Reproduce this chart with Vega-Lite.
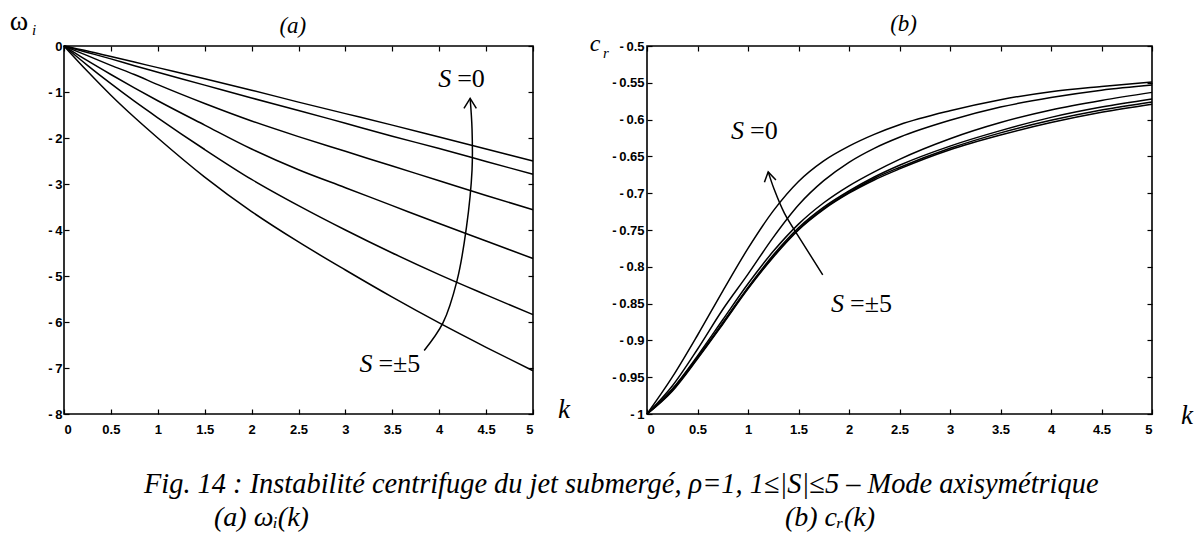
{
  "$schema": "https://vega.github.io/schema/vega-lite/v6.json",
  "background": "white",
  "padding": {"left": 8, "top": 7, "right": 0, "bottom": 0},
  "bounds": "flush",
  "spacing": 114,
  "config": {
    "view": {"stroke": "black", "strokeWidth": 1.6},
    "axis": {
      "domain": false,
      "grid": false,
      "ticks": true,
      "tickSize": -5,
      "tickColor": "black",
      "tickWidth": 1.2,
      "labelFont": "Liberation Sans",
      "labelFontWeight": "bold",
      "labelFontSize": 13,
      "labelColor": "black"
    },
    "text": {"color": "black"}
  },
  "datasets": {
    "omega": [
      {"S": 0, "k": 0, "w": 0}, {"S": 0, "k": 0.25, "w": -0.11}, {"S": 0, "k": 0.5, "w": -0.23}, {"S": 0, "k": 0.75, "w": -0.35}, {"S": 0, "k": 1, "w": -0.47}, {"S": 0, "k": 1.5, "w": -0.71}, {"S": 0, "k": 2, "w": -0.96}, {"S": 0, "k": 2.5, "w": -1.22}, {"S": 0, "k": 3, "w": -1.47}, {"S": 0, "k": 3.5, "w": -1.72}, {"S": 0, "k": 4, "w": -1.98}, {"S": 0, "k": 4.5, "w": -2.24}, {"S": 0, "k": 5, "w": -2.5},
      {"S": 1, "k": 0, "w": 0}, {"S": 1, "k": 0.25, "w": -0.14}, {"S": 1, "k": 0.5, "w": -0.28}, {"S": 1, "k": 0.75, "w": -0.43}, {"S": 1, "k": 1, "w": -0.57}, {"S": 1, "k": 1.5, "w": -0.85}, {"S": 1, "k": 2, "w": -1.13}, {"S": 1, "k": 2.5, "w": -1.4}, {"S": 1, "k": 3, "w": -1.68}, {"S": 1, "k": 3.5, "w": -1.96}, {"S": 1, "k": 4, "w": -2.23}, {"S": 1, "k": 4.5, "w": -2.51}, {"S": 1, "k": 5, "w": -2.79},
      {"S": 2, "k": 0, "w": 0}, {"S": 2, "k": 0.25, "w": -0.21}, {"S": 2, "k": 0.5, "w": -0.42}, {"S": 2, "k": 0.75, "w": -0.62}, {"S": 2, "k": 1, "w": -0.84}, {"S": 2, "k": 1.5, "w": -1.25}, {"S": 2, "k": 2, "w": -1.63}, {"S": 2, "k": 2.5, "w": -1.97}, {"S": 2, "k": 3, "w": -2.29}, {"S": 2, "k": 3.5, "w": -2.61}, {"S": 2, "k": 4, "w": -2.93}, {"S": 2, "k": 4.5, "w": -3.25}, {"S": 2, "k": 5, "w": -3.56},
      {"S": 3, "k": 0, "w": 0}, {"S": 3, "k": 0.25, "w": -0.32}, {"S": 3, "k": 0.5, "w": -0.62}, {"S": 3, "k": 0.75, "w": -0.91}, {"S": 3, "k": 1, "w": -1.19}, {"S": 3, "k": 1.5, "w": -1.72}, {"S": 3, "k": 2, "w": -2.24}, {"S": 3, "k": 2.5, "w": -2.69}, {"S": 3, "k": 3, "w": -3.08}, {"S": 3, "k": 3.5, "w": -3.47}, {"S": 3, "k": 4, "w": -3.86}, {"S": 3, "k": 4.5, "w": -4.24}, {"S": 3, "k": 5, "w": -4.62},
      {"S": 4, "k": 0, "w": 0}, {"S": 4, "k": 0.25, "w": -0.42}, {"S": 4, "k": 0.5, "w": -0.82}, {"S": 4, "k": 0.75, "w": -1.2}, {"S": 4, "k": 1, "w": -1.56}, {"S": 4, "k": 1.5, "w": -2.25}, {"S": 4, "k": 2, "w": -2.9}, {"S": 4, "k": 2.5, "w": -3.47}, {"S": 4, "k": 3, "w": -4.0}, {"S": 4, "k": 3.5, "w": -4.5}, {"S": 4, "k": 4, "w": -4.97}, {"S": 4, "k": 4.5, "w": -5.41}, {"S": 4, "k": 5, "w": -5.84},
      {"S": 5, "k": 0, "w": 0}, {"S": 5, "k": 0.25, "w": -0.55}, {"S": 5, "k": 0.5, "w": -1.07}, {"S": 5, "k": 0.75, "w": -1.55}, {"S": 5, "k": 1, "w": -2.0}, {"S": 5, "k": 1.5, "w": -2.85}, {"S": 5, "k": 2, "w": -3.6}, {"S": 5, "k": 2.5, "w": -4.26}, {"S": 5, "k": 3, "w": -4.87}, {"S": 5, "k": 3.5, "w": -5.46}, {"S": 5, "k": 4, "w": -6.02}, {"S": 5, "k": 4.5, "w": -6.55}, {"S": 5, "k": 5, "w": -7.06}
    ],
    "cr": [
      {"S": 0, "k": 0, "c": -1}, {"S": 0, "k": 0.25, "c": -0.95}, {"S": 0, "k": 0.5, "c": -0.893}, {"S": 0, "k": 0.75, "c": -0.833}, {"S": 0, "k": 1, "c": -0.775}, {"S": 0, "k": 1.25, "c": -0.724}, {"S": 0, "k": 1.5, "c": -0.684}, {"S": 0, "k": 1.75, "c": -0.656}, {"S": 0, "k": 2, "c": -0.636}, {"S": 0, "k": 2.25, "c": -0.62}, {"S": 0, "k": 2.5, "c": -0.607}, {"S": 0, "k": 3, "c": -0.588}, {"S": 0, "k": 3.5, "c": -0.573}, {"S": 0, "k": 4, "c": -0.562}, {"S": 0, "k": 4.5, "c": -0.555}, {"S": 0, "k": 5, "c": -0.549},
      {"S": 1, "k": 0, "c": -1}, {"S": 1, "k": 0.25, "c": -0.962}, {"S": 1, "k": 0.5, "c": -0.912}, {"S": 1, "k": 0.75, "c": -0.858}, {"S": 1, "k": 1, "c": -0.81}, {"S": 1, "k": 1.25, "c": -0.76}, {"S": 1, "k": 1.5, "c": -0.716}, {"S": 1, "k": 1.75, "c": -0.683}, {"S": 1, "k": 2, "c": -0.658}, {"S": 1, "k": 2.25, "c": -0.639}, {"S": 1, "k": 2.5, "c": -0.624}, {"S": 1, "k": 3, "c": -0.601}, {"S": 1, "k": 3.5, "c": -0.583}, {"S": 1, "k": 4, "c": -0.57}, {"S": 1, "k": 4.5, "c": -0.56}, {"S": 1, "k": 5, "c": -0.553},
      {"S": 2, "k": 0, "c": -1}, {"S": 2, "k": 0.25, "c": -0.966}, {"S": 2, "k": 0.5, "c": -0.921}, {"S": 2, "k": 0.75, "c": -0.872}, {"S": 2, "k": 1, "c": -0.823}, {"S": 2, "k": 1.25, "c": -0.779}, {"S": 2, "k": 1.5, "c": -0.742}, {"S": 2, "k": 1.75, "c": -0.713}, {"S": 2, "k": 2, "c": -0.69}, {"S": 2, "k": 2.25, "c": -0.671}, {"S": 2, "k": 2.5, "c": -0.654}, {"S": 2, "k": 3, "c": -0.626}, {"S": 2, "k": 3.5, "c": -0.604}, {"S": 2, "k": 4, "c": -0.587}, {"S": 2, "k": 4.5, "c": -0.574}, {"S": 2, "k": 5, "c": -0.563},
      {"S": 3, "k": 0, "c": -1}, {"S": 3, "k": 0.25, "c": -0.967}, {"S": 3, "k": 0.5, "c": -0.923}, {"S": 3, "k": 0.75, "c": -0.876}, {"S": 3, "k": 1, "c": -0.828}, {"S": 3, "k": 1.25, "c": -0.784}, {"S": 3, "k": 1.5, "c": -0.747}, {"S": 3, "k": 1.75, "c": -0.719}, {"S": 3, "k": 2, "c": -0.697}, {"S": 3, "k": 2.25, "c": -0.678}, {"S": 3, "k": 2.5, "c": -0.662}, {"S": 3, "k": 3, "c": -0.636}, {"S": 3, "k": 3.5, "c": -0.615}, {"S": 3, "k": 4, "c": -0.597}, {"S": 3, "k": 4.5, "c": -0.583}, {"S": 3, "k": 5, "c": -0.572},
      {"S": 4, "k": 0, "c": -1}, {"S": 4, "k": 0.25, "c": -0.968}, {"S": 4, "k": 0.5, "c": -0.924}, {"S": 4, "k": 0.75, "c": -0.877}, {"S": 4, "k": 1, "c": -0.829}, {"S": 4, "k": 1.25, "c": -0.786}, {"S": 4, "k": 1.5, "c": -0.749}, {"S": 4, "k": 1.75, "c": -0.721}, {"S": 4, "k": 2, "c": -0.699}, {"S": 4, "k": 2.25, "c": -0.68}, {"S": 4, "k": 2.5, "c": -0.665}, {"S": 4, "k": 3, "c": -0.639}, {"S": 4, "k": 3.5, "c": -0.618}, {"S": 4, "k": 4, "c": -0.601}, {"S": 4, "k": 4.5, "c": -0.587}, {"S": 4, "k": 5, "c": -0.576},
      {"S": 5, "k": 0, "c": -1}, {"S": 5, "k": 0.25, "c": -0.969}, {"S": 5, "k": 0.5, "c": -0.925}, {"S": 5, "k": 0.75, "c": -0.878}, {"S": 5, "k": 1, "c": -0.83}, {"S": 5, "k": 1.25, "c": -0.787}, {"S": 5, "k": 1.5, "c": -0.75}, {"S": 5, "k": 1.75, "c": -0.722}, {"S": 5, "k": 2, "c": -0.7}, {"S": 5, "k": 2.25, "c": -0.682}, {"S": 5, "k": 2.5, "c": -0.667}, {"S": 5, "k": 3, "c": -0.641}, {"S": 5, "k": 3.5, "c": -0.621}, {"S": 5, "k": 4, "c": -0.604}, {"S": 5, "k": 4.5, "c": -0.59}, {"S": 5, "k": 5, "c": -0.579}
    ],
    "arrowA": [
      {"i": 0, "k": 3.84, "v": -6.62}, {"i": 1, "k": 4.04, "v": -6.02}, {"i": 2, "k": 4.19, "v": -5.1}, {"i": 3, "k": 4.29, "v": -3.95}, {"i": 4, "k": 4.35, "v": -2.7}, {"i": 5, "k": 4.35, "v": -1.8}, {"i": 6, "k": 4.33, "v": -1.14}
    ],
    "arrowB": [
      {"i": 0, "k": 1.74, "v": -0.811}, {"i": 1, "k": 1.52, "v": -0.763}, {"i": 2, "k": 1.36, "v": -0.727}, {"i": 3, "k": 1.26, "v": -0.695}, {"i": 4, "k": 1.2, "v": -0.671}
    ],
    "tipA": [{"k": 4.33, "v": -1.14, "angle": 0}],
    "tipB": [{"k": 1.2, "v": -0.671, "angle": -12}],
    "labA": [
      {"k": 4.16, "v": -0.71, "s": "S", "rest": "=0"},
      {"k": 3.32, "v": -6.92, "s": "S", "rest": "=±5"}
    ],
    "labB": [
      {"k": 0.99, "v": -0.616, "s": "S", "rest": "=0"},
      {"k": 1.98, "v": -0.85, "s": "S", "rest": "=±5"}
    ]
  },
  "title": {
    "text": "Fig. 14 : Instabilité centrifuge du jet submergé, ρ=1, 1≤|S|≤5 – Mode axisymétrique",
    "subtitle": "\u200B\u2003\u2003\u2002(a) ωᵢ(k)\u2003\u2003\u2003\u2003\u2003\u2003\u2003\u2003\u2003\u2003\u2003\u2003\u2003\u2003\u2003\u2003\u2003(b) cᵣ(k)",
    "orient": "bottom",
    "anchor": "start",
    "frame": "group",
    "dx": 80,
    "offset": 34,
    "font": "Liberation Serif",
    "fontStyle": "italic",
    "fontWeight": "normal",
    "fontSize": 28.4,
    "color": "black",
    "subtitleFont": "Liberation Serif",
    "subtitleFontStyle": "italic",
    "subtitleFontWeight": "normal",
    "subtitleFontSize": 28,
    "subtitleColor": "black",
    "subtitlePadding": 5
  },
  "hconcat": [
    {
      "width": 469,
      "height": 368,
      "resolve": {"axis": {"x": "independent", "y": "independent"}},
      "layer": [
        {
          "data": {"name": "omega"},
          "mark": {"type": "line", "color": "black", "strokeWidth": 1.5, "interpolate": "monotone"},
          "encoding": {
            "x": {"field": "k", "type": "quantitative", "scale": {"domain": [0, 5], "nice": false, "zero": false},
                  "axis": {"orient": "bottom", "title": null, "values": [0, 0.5, 1, 1.5, 2, 2.5, 3, 3.5, 4, 4.5, 5], "labelPadding": 14,
                           "labelExpr": "(datum.value < 0 ? '-\u2009' : '') + format(abs(datum.value), '~g')"}},
            "y": {"field": "w", "type": "quantitative", "scale": {"domain": [-8, 0], "nice": false, "zero": false},
                  "axis": {"orient": "left", "title": null, "values": [-8, -7, -6, -5, -4, -3, -2, -1, 0], "labelPadding": 7,
                           "labelExpr": "(datum.value < 0 ? '-\u2009' : '') + format(abs(datum.value), '~g')"}},
            "detail": {"field": "S"}
          }
        },
        {
          "data": {"name": "arrowA"},
          "mark": {"type": "line", "color": "black", "strokeWidth": 1.5, "interpolate": "catmull-rom"},
          "encoding": {
            "x": {"field": "k", "type": "quantitative", "axis": {"orient": "top", "title": null, "labels": false, "values": [0, 0.5, 1, 1.5, 2, 2.5, 3, 3.5, 4, 4.5, 5]}},
            "y": {"field": "v", "type": "quantitative", "axis": {"orient": "right", "title": null, "labels": false, "values": [-8, -7, -6, -5, -4, -3, -2, -1, 0]}},
            "order": {"field": "i"}
          }
        },
        {
          "data": {"name": "tipA"},
          "mark": {"type": "point", "shape": "M-0.62,1L0,0L0.62,1", "filled": false, "stroke": "black", "strokeWidth": 1.5, "size": 400, "opacity": 1},
          "encoding": {
            "x": {"field": "k", "type": "quantitative", "axis": null},
            "y": {"field": "v", "type": "quantitative", "axis": null},
            "angle": {"field": "angle", "type": "quantitative", "scale": null}
          }
        },
        {
          "data": {"name": "labA"},
          "mark": {"type": "text", "font": "Liberation Serif", "fontStyle": "italic", "fontSize": 26, "align": "right", "baseline": "middle", "dx": -3},
          "encoding": {
            "x": {"field": "k", "type": "quantitative", "axis": null},
            "y": {"field": "v", "type": "quantitative", "axis": null},
            "text": {"field": "s"}
          }
        },
        {
          "data": {"name": "labA"},
          "mark": {"type": "text", "font": "Liberation Serif", "fontSize": 26, "align": "left", "baseline": "middle", "dx": 3},
          "encoding": {
            "x": {"field": "k", "type": "quantitative", "axis": null},
            "y": {"field": "v", "type": "quantitative", "axis": null},
            "text": {"field": "rest"}
          }
        },
        {
          "data": {"values": [{}]},
          "mark": {"type": "text", "font": "Liberation Serif", "fontStyle": "italic", "fontSize": 23, "align": "center", "baseline": "middle", "dy": -20},
          "encoding": {
            "x": {"datum": 2.44, "type": "quantitative", "axis": null},
            "y": {"datum": 0, "type": "quantitative", "axis": null},
            "text": {"value": "(a)"}
          }
        },
        {
          "data": {"values": [{}]},
          "mark": {"type": "text", "font": "Liberation Serif", "fontSize": 28, "align": "center", "baseline": "middle", "dx": -45, "dy": -24},
          "encoding": {
            "x": {"datum": 0, "type": "quantitative", "axis": null},
            "y": {"datum": 0, "type": "quantitative", "axis": null},
            "text": {"value": "ω"}
          }
        },
        {
          "data": {"values": [{}]},
          "mark": {"type": "text", "font": "Liberation Serif", "fontStyle": "italic", "fontSize": 15, "align": "center", "baseline": "middle", "dx": -30, "dy": -16},
          "encoding": {
            "x": {"datum": 0, "type": "quantitative", "axis": null},
            "y": {"datum": 0, "type": "quantitative", "axis": null},
            "text": {"value": "i"}
          }
        },
        {
          "data": {"values": [{}]},
          "mark": {"type": "text", "font": "Liberation Serif", "fontStyle": "italic", "fontSize": 27, "align": "center", "baseline": "middle", "dx": 31, "dy": -4},
          "encoding": {
            "x": {"datum": 5, "type": "quantitative", "axis": null},
            "y": {"datum": -8, "type": "quantitative", "axis": null},
            "text": {"value": "k"}
          }
        }
      ]
    },
    {
      "width": 505,
      "height": 368,
      "resolve": {"axis": {"x": "independent", "y": "independent"}},
      "layer": [
        {
          "data": {"name": "cr"},
          "mark": {"type": "line", "color": "black", "strokeWidth": 1.5, "interpolate": "monotone"},
          "encoding": {
            "x": {"field": "k", "type": "quantitative", "scale": {"domain": [0, 5], "nice": false, "zero": false},
                  "axis": {"orient": "bottom", "title": null, "values": [0, 0.5, 1, 1.5, 2, 2.5, 3, 3.5, 4, 4.5, 5], "labelPadding": 14,
                           "labelExpr": "(datum.value < 0 ? '-\u2009' : '') + format(abs(datum.value), '~g')"}},
            "y": {"field": "c", "type": "quantitative", "scale": {"domain": [-1, -0.5], "nice": false, "zero": false},
                  "axis": {"orient": "left", "title": null, "values": [-1, -0.95, -0.9, -0.85, -0.8, -0.75, -0.7, -0.65, -0.6, -0.55, -0.5], "labelPadding": 8,
                           "labelExpr": "(datum.value < 0 ? '-\u2009' : '') + format(abs(datum.value), '~g')"}},
            "detail": {"field": "S"}
          }
        },
        {
          "data": {"name": "arrowB"},
          "mark": {"type": "line", "color": "black", "strokeWidth": 1.5, "interpolate": "catmull-rom"},
          "encoding": {
            "x": {"field": "k", "type": "quantitative", "axis": {"orient": "top", "title": null, "labels": false, "values": [0, 0.5, 1, 1.5, 2, 2.5, 3, 3.5, 4, 4.5, 5]}},
            "y": {"field": "v", "type": "quantitative", "axis": {"orient": "right", "title": null, "labels": false, "values": [-1, -0.95, -0.9, -0.85, -0.8, -0.75, -0.7, -0.65, -0.6, -0.55, -0.5]}},
            "order": {"field": "i"}
          }
        },
        {
          "data": {"name": "tipB"},
          "mark": {"type": "point", "shape": "M-0.62,1L0,0L0.62,1", "filled": false, "stroke": "black", "strokeWidth": 1.5, "size": 360, "opacity": 1},
          "encoding": {
            "x": {"field": "k", "type": "quantitative", "axis": null},
            "y": {"field": "v", "type": "quantitative", "axis": null},
            "angle": {"field": "angle", "type": "quantitative", "scale": null}
          }
        },
        {
          "data": {"name": "labB"},
          "mark": {"type": "text", "font": "Liberation Serif", "fontStyle": "italic", "fontSize": 26, "align": "right", "baseline": "middle", "dx": -3},
          "encoding": {
            "x": {"field": "k", "type": "quantitative", "axis": null},
            "y": {"field": "v", "type": "quantitative", "axis": null},
            "text": {"field": "s"}
          }
        },
        {
          "data": {"name": "labB"},
          "mark": {"type": "text", "font": "Liberation Serif", "fontSize": 26, "align": "left", "baseline": "middle", "dx": 3},
          "encoding": {
            "x": {"field": "k", "type": "quantitative", "axis": null},
            "y": {"field": "v", "type": "quantitative", "axis": null},
            "text": {"field": "rest"}
          }
        },
        {
          "data": {"values": [{}]},
          "mark": {"type": "text", "font": "Liberation Serif", "fontStyle": "italic", "fontSize": 23, "align": "center", "baseline": "middle", "dy": -22},
          "encoding": {
            "x": {"datum": 2.54, "type": "quantitative", "axis": null},
            "y": {"datum": -0.5, "type": "quantitative", "axis": null},
            "text": {"value": "(b)"}
          }
        },
        {
          "data": {"values": [{}]},
          "mark": {"type": "text", "font": "Liberation Serif", "fontStyle": "italic", "fontSize": 24, "align": "center", "baseline": "middle", "dx": -52, "dy": -2},
          "encoding": {
            "x": {"datum": 0, "type": "quantitative", "axis": null},
            "y": {"datum": -0.5, "type": "quantitative", "axis": null},
            "text": {"value": "c"}
          }
        },
        {
          "data": {"values": [{}]},
          "mark": {"type": "text", "font": "Liberation Serif", "fontStyle": "italic", "fontSize": 15, "align": "center", "baseline": "middle", "dx": -41, "dy": 7},
          "encoding": {
            "x": {"datum": 0, "type": "quantitative", "axis": null},
            "y": {"datum": -0.5, "type": "quantitative", "axis": null},
            "text": {"value": "r"}
          }
        },
        {
          "data": {"values": [{}]},
          "mark": {"type": "text", "font": "Liberation Serif", "fontStyle": "italic", "fontSize": 27, "align": "center", "baseline": "middle", "dx": 35, "dy": 2},
          "encoding": {
            "x": {"datum": 5, "type": "quantitative", "axis": null},
            "y": {"datum": -1, "type": "quantitative", "axis": null},
            "text": {"value": "k"}
          }
        }
      ]
    }
  ]
}
